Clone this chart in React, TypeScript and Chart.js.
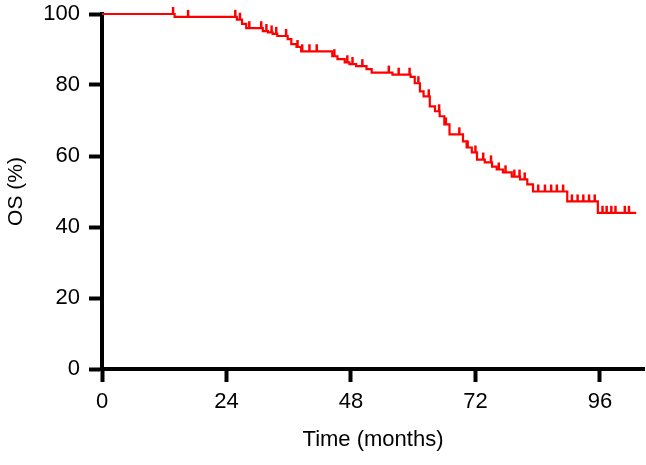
import { useEffect, useRef } from "react";
import { Chart, registerables } from "chart.js";

Chart.register(...registerables);

// Kaplan-Meier steps: time (months) and OS (%) after each drop
const stepTimes = [
    0, 14, 26, 27, 27.8, 31, 32, 32.9, 33.8, 35.8, 36.5, 37.5, 38.4, 44.4, 45.4, 46.8, 47.7, 49, 51, 52,
    56, 59.5, 60.3, 61.3, 62, 63.2, 64.2, 65.1, 66, 67, 69.6, 70.3, 71.3, 72.3, 73.8, 75.2, 76.1, 77.3,
    79, 80.6, 82, 83.1, 89.7, 95.6, 103,
];
const stepSurvival = [
    100, 99.2, 98.4, 97.2, 96, 95.2, 94.8, 94.4, 93.8, 92.9, 91.5, 90.7, 89.5, 88.1, 87.3, 86.4, 85.9, 85.3, 84.5, 83.5,
    82.9, 82.3, 80.5, 78.2, 76.8, 74, 72.6, 71.2, 68.9, 66.1, 64.1, 62.4, 61, 59, 58.2, 57, 56.2, 55.4,
    54.2, 53.4, 52, 50, 47.2, 44, 44,
];
// censored observations (months)
const censorTimes = [
    13.7, 16.6, 25.7, 26.6, 28.4, 30.7, 31.7, 32.7, 33.6, 35.5, 37.7, 38.6, 40, 41.4, 44.8, 47.3, 48.3, 50.2,
    55.3, 57.2, 59.3, 61, 63, 65, 66.3, 68.9, 70.5, 72, 73.5, 75, 76.5, 77.8, 79.5, 80.5, 81.5,
    84.1, 85.4, 86.6, 87.7, 88.9, 90.6, 91.7, 92.8, 93.9, 95, 96.5, 97.3, 98.2, 99, 100.8, 101.6,
];
const xTicks = [0, 24, 48, 72, 96];

const RED = "#ff0000";
const FONT = "'Liberation Sans', Arial, Helvetica, sans-serif";

function survivalAt(t: number) {
    let s = stepSurvival[0];
    for (let i = 0; i < stepTimes.length; i++) {
        if (stepTimes[i] <= t) s = stepSurvival[i];
    }
    return s;
}

const censorPlugin = {
    id: "censorTicks",
    afterDatasetsDraw(chart: Chart) {
        const { ctx, scales } = chart;
        ctx.save();
        ctx.strokeStyle = RED;
        ctx.lineWidth = 2.5;
        for (const t of censorTimes) {
            const x = scales.x.getPixelForValue(t);
            const y = scales.y.getPixelForValue(survivalAt(t));
            ctx.beginPath();
            ctx.moveTo(x, y);
            ctx.lineTo(x, y - 7);
            ctx.stroke();
        }
        ctx.restore();
    },
};

export default function App() {
    const canvasRef = useRef<HTMLCanvasElement | null>(null);

    useEffect(() => {
        document.body.style.margin = "0";
        if (!canvasRef.current) {
            return;
        }

        const chart = new Chart(canvasRef.current, {
            type: "line",
            data: {
                datasets: [
                    {
                        label: "OS",
                        data: stepTimes.map((t, i) => ({ x: t, y: stepSurvival[i] })),
                        stepped: true,
                        borderColor: RED,
                        borderWidth: 2.2,
                        pointRadius: 0,
                        fill: false,
                        clip: false,
                    },
                ],
            },
            options: {
                responsive: false,
                animation: false,
                layout: { padding: { top: 14, right: 2, left: 0, bottom: 0 } },
                plugins: {
                    legend: { display: false },
                    tooltip: { enabled: false },
                },
                scales: {
                    x: {
                        type: "linear",
                        min: 0,
                        max: 104.5,
                        afterFit: (scale) => {
                            scale.height = 96;
                            scale.paddingLeft = 0;
                            scale.paddingRight = 0;
                        },
                        afterBuildTicks: (scale) => {
                            scale.ticks = xTicks.map((v) => ({ value: v }));
                        },
                        ticks: {
                            color: "#000",
                            padding: 7,
                            font: { family: FONT, size: 22 },
                        },
                        grid: {
                            drawOnChartArea: false,
                            tickLength: 13,
                            tickWidth: 4,
                            tickColor: "#000",
                        },
                        border: { color: "#000", width: 4 },
                        title: {
                            display: true,
                            text: "Time (months)",
                            color: "#000",
                            font: { family: FONT, size: 22 },
                            padding: { top: 4, bottom: 12 },
                        },
                    },
                    y: {
                        min: 0,
                        max: 100,
                        afterFit: (scale) => {
                            scale.width = 102;
                            scale.paddingTop = 0;
                            scale.paddingBottom = 0;
                        },
                        ticks: {
                            stepSize: 20,
                            color: "#000",
                            padding: 9,
                            font: { family: FONT, size: 22 },
                        },
                        grid: {
                            drawOnChartArea: false,
                            tickLength: 13,
                            tickWidth: 4,
                            tickColor: "#000",
                        },
                        border: { color: "#000", width: 4 },
                        title: {
                            display: true,
                            text: "OS (%)",
                            color: "#000",
                            font: { family: FONT, size: 21 },
                            padding: { top: 4, bottom: 4 },
                        },
                    },
                },
            },
            plugins: [censorPlugin],
        });

        return () => chart.destroy();
    }, []);

    return (
        <div style={{ width: 646, height: 465, background: "#fff" }}>
            <canvas ref={canvasRef} width={646} height={465} />
        </div>
    );
}
